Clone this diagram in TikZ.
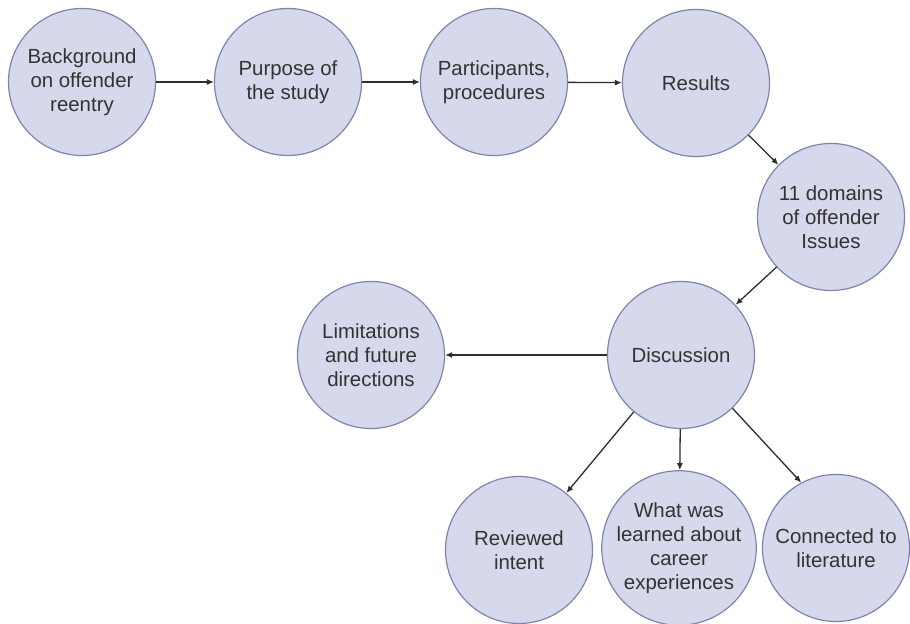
\documentclass[tikz,border=0pt]{standalone}
\usepackage{fontspec}
\newfontfamily\mapfont{Liberation Sans}
\usepackage{tikz}
\usetikzlibrary{arrows.meta,positioning}

\begin{document}
\begin{tikzpicture}[x=1bp,y=1bp,
    topic/.style={circle,draw=circleline,fill=circlefill,line width=1.2bp,
        minimum size=147bp,inner sep=0pt,align=center,text=textcolor,
        font=\mapfont\fontsize{20.5}{24}\selectfont},
    link/.style={draw=linkcolor,line width=1.3bp,-{Latex[length=7bp,width=6bp]}}]
    \definecolor{circlefill}{HTML}{D6D8EB}
    \definecolor{circleline}{HTML}{8083B0}
    \definecolor{textcolor}{HTML}{333333}
    \definecolor{linkcolor}{HTML}{2E2E2E}
    \useasboundingbox (0,0) rectangle (910,624);
    \fill[white] (0,0) rectangle (910,624);
    % top row
    \node[topic] (background) at (82,542) {Background\\on offender\\reentry};
    \node[topic] (purpose) at (288,542) {Purpose of\\the study};
    \node[topic] (participants) at (494,542) {Participants,\\procedures};
    \node[topic] (results) at (696,541) {Results};
    \node[topic] (domains) at (831,407) {11 domains\\of offender\\Issues};
    % discussion and what follows it
    \node[topic] (discussion) at (681,269) {Discussion};
    \node[topic] (limitations) at (371,269) {Limitations\\and future\\directions};
    \node[topic] (reviewed) at (519,74) {Reviewed\\intent};
    \node[topic] (learned) at (679,76) {What was\\learned about\\career\\experiences};
    \node[topic] (connected) at (836,76) {Connected to\\literature};
    \draw[link] (background) -- (purpose);
    \draw[link] (purpose) -- (participants);
    \draw[link] (participants) -- (results);
    \draw[link] (results) -- (domains);
    \draw[link] (domains) -- (discussion);
    \draw[link] (discussion) -- (limitations);
    \draw[link] (discussion) -- (reviewed);
    \draw[link] (discussion) -- (learned);
    \draw[link] (discussion.-46) -- (connected.118);
\end{tikzpicture}
\end{document}
